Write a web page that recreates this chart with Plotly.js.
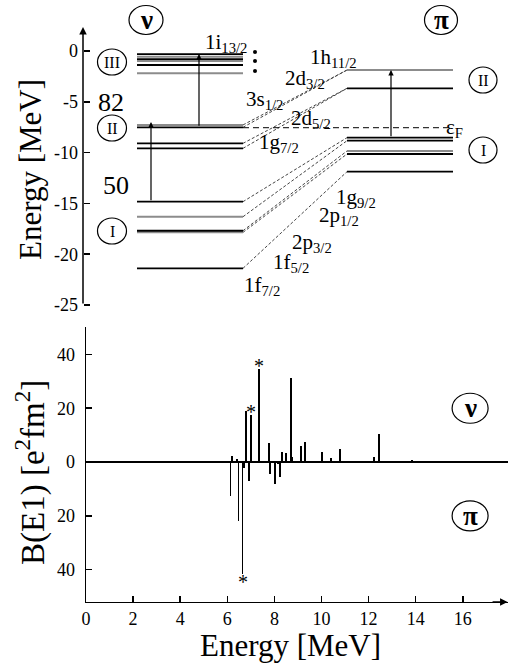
<!DOCTYPE html>
<html><head><meta charset="utf-8">
<script src="https://cdn.plot.ly/plotly-3.0.1.min.js"></script>
<style>html,body{margin:0;padding:0;background:#fff}#chart{width:508px;height:669px}</style>
</head><body><div id="chart"></div>
<script>
// ---------- DATA ----------
// Top panel: single-particle energies [MeV]
const nuLevels = [-0.30,-0.56,-0.79,-0.98,-1.38,-2.19,-7.28,-7.51,-9.09,-9.58,-14.83,-16.31,-17.69,-17.85,-21.39];
const nuShade  = ['k','g','k','g','k','g','g','k','k','k','k','g','k','g','k'];
const piLevels = [-1.87,-3.67,-8.53,-8.83,-9.84,-10.14,-11.88];
const piShade  = ['g','k','k','k','g','k','k'];
// neutron level index -> proton level index
const links = [[6,0],[7,0],[8,1],[9,1],[10,2],[11,3],[12,4],[13,5],[14,6]];
const fermiE = -7.55;
const levelLabels = ['1i<sub>13/2</sub>','3s<sub>1/2</sub>','2d<sub>3/2</sub>','1h<sub>11/2</sub>','2d<sub>5/2</sub>','1g<sub>7/2</sub>',
                     '1g<sub>9/2</sub>','2p<sub>1/2</sub>','2p<sub>3/2</sub>','1f<sub>5/2</sub>','1f<sub>7/2</sub>'];
const magicLabels = ['82','50'];
const yTicks = [0,-5,-10,-15,-20,-25];
const yTickText = ['0','-5','-10','-15','-20','-25'];
// Bottom panel: B(E1) strengths [e^2 fm^2]
const nuE = [5.83,6.21,6.42,6.81,7.02,7.36,7.77,8.31,8.48,8.69,8.75,9.13,9.29,10.02,10.40,10.80,12.22,12.45,13.84];
const nuB = [0.5,2.3,1.0,19.0,17.5,34.5,6.9,3.8,3.2,31.1,1.7,6.1,7.5,3.8,1.6,4.7,1.9,10.4,0.9];
const piE = [6.14,6.48,6.65,6.71,6.92,7.81,8.03,8.14,8.25];
const piB = [-12.6,-22.0,-41.6,-2.4,-7.0,-4.6,-8.0,-0.9,-5.5];
const starredNu = [4,5];   // indices of nuE marked with *
const starredPi = [2];
const bTicks = [40,20,0,-20,-40];
const bTickText = ['40','20','0','20','40'];
const xTicks = [0,2,4,6,8,10,12,14,16];

// ---------- LAYOUT HELPERS (pixel geometry) ----------
const W=508,H=669;
const ey = py => (51-py)/10.16;           // top panel pixel-y -> energy
const NX0=137, NX1=243, PX0=347, PX1=453; // level segment extents (x2 units = px)
const FONT = 'Liberation Serif, Times New Roman, serif';

const traces = [];
function levelTrace(levels, shade, want, x0, x1, color, w){
  const xs=[], ys=[];
  levels.forEach((e,i)=>{ if(shade[i]===want){ xs.push(x0,x1,null); ys.push(e,e,null);} });
  return {type:'scatter',mode:'lines',x:xs,y:ys,xaxis:'x2',yaxis:'y2',line:{color:color,width:w},hoverinfo:'skip',showlegend:false};
}
traces.push(levelTrace(nuLevels,nuShade,'g',NX0,NX1,'#8c8c8c',2));
traces.push(levelTrace(nuLevels,nuShade,'k',NX0,NX1,'#000',1.8));
traces.push(levelTrace(piLevels,piShade,'g',PX0,PX1,'#8c8c8c',2));
traces.push(levelTrace(piLevels,piShade,'k',PX0,PX1,'#000',1.8));
// connection lines
(function(){
  const xs=[],ys=[];
  links.forEach(([n,p])=>{ xs.push(NX1,PX0,null); ys.push(nuLevels[n],piLevels[p],null); });
  traces.push({type:'scatter',mode:'lines',x:xs,y:ys,xaxis:'x2',yaxis:'y2',line:{color:'#444',width:1,dash:'3px,2px'},hoverinfo:'skip',showlegend:false});
})();
// Fermi level
traces.push({type:'scatter',mode:'lines',x:[NX1,PX1],y:[fermiE,fermiE],xaxis:'x2',yaxis:'y2',line:{color:'#000',width:1,dash:'6px,4px'},hoverinfo:'skip',showlegend:false});
// dots after 1i13/2
traces.push({type:'scatter',mode:'markers',x:[255,255,255],y:[ey(52),ey(61),ey(71)],xaxis:'x2',yaxis:'y2',marker:{color:'#000',size:4},hoverinfo:'skip',showlegend:false});
// bars
traces.push({type:'bar',x:nuE,y:nuB,width:0.075,marker:{color:'#000',line:{width:0}},xaxis:'x',yaxis:'y',showlegend:false});
traces.push({type:'bar',x:piE,y:piB,width:0.075,marker:{color:'#000',line:{width:0}},xaxis:'x',yaxis:'y',showlegend:false});

const ann = [];
const T = (text,px,py,size,extra)=>Object.assign({text:text,x:px,y:ey(py),xref:'x2',yref:'y2',showarrow:false,
   xanchor:'center',yanchor:'middle',font:{family:FONT,size:size,color:'#000'}},extra||{});
// level labels
const lblPos = [[226,43],[264,100],[305,79],[333,58],[311,119],[279,143],[356,198],[339,216],[312,243],[291,263],[262,286]];
levelLabels.forEach((t,i)=>ann.push(T(t,lblPos[i][0],lblPos[i][1],21)));
ann.push(T('ε<sub>F</sub>',454,128,21));
ann.push(T(magicLabels[0],111,102,26));
ann.push(T(magicLabels[1],116,185,26));
// circled labels
const circ = [['<b>ν</b>',146,20,34,29,27],['<b>π</b>',441,20,33,29,27],['III',112,62,29,26,16],['II',112,128,29,26,16],['I',112,231,29,26,16],['II',483,80,28,26,16],['I',483,150,28,26,16]];
const shapes=[];
circ.forEach(([t,cx,cy,w,h,fs])=>{
  ann.push(T(t,cx,cy,fs));
  shapes.push({type:'circle',xref:'x2',yref:'y2',ysizemode:'pixel',yanchor:ey(cy),x0:cx-w/2,x1:cx+w/2,y0:-h/2,y1:h/2,line:{color:'#000',width:1.2}});
});
// arrows in top panel
const arr=(x,yt,yh)=>({x:x,y:yh,ax:x,ay:yt,xref:'x2',yref:'y2',axref:'x2',ayref:'y2',text:'',showarrow:true,arrowhead:2,arrowsize:0.9,arrowwidth:1.2,arrowcolor:'#000'});
ann.push(arr(151,nuLevels[10],ey(122)));
ann.push(arr(199,nuLevels[7],nuLevels[0]));
ann.push(arr(391,piLevels[2],piLevels[0]));
// top axis line with arrow
ann.push({x:83,y:ey(27),ax:83,ay:-25,xref:'x2',yref:'y2',axref:'x2',ayref:'y2',text:'',showarrow:true,arrowhead:2,arrowsize:1,arrowwidth:1.5,arrowcolor:'#000'});
// bottom x axis arrow
ann.push({x:17.9,y:-52,ax:17.2,ay:-52,xref:'x',yref:'y',axref:'x',ayref:'y',text:'',showarrow:true,arrowhead:2,arrowsize:1,arrowwidth:1.5,arrowcolor:'#000'});
// stars
starredNu.forEach(i=>ann.push({text:'*',x:nuE[i],y:nuB[i],xref:'x',yref:'y',showarrow:false,xanchor:'center',yanchor:'middle',yshift:3,font:{family:FONT,size:20,color:'#000'}}));
starredPi.forEach(i=>ann.push({text:'*',x:piE[i],y:piB[i],xref:'x',yref:'y',showarrow:false,xanchor:'center',yanchor:'middle',yshift:-8,font:{family:FONT,size:20,color:'#000'}}));
// bottom circled labels
[['<b>ν</b>',20],['<b>π</b>',-20]].forEach(([t,yv])=>{
  ann.push({text:t,x:16.31,y:yv,xref:'x',yref:'y',showarrow:false,xanchor:'center',yanchor:'middle',font:{family:FONT,size:27,color:'#000'}});
  shapes.push({type:'circle',xref:'x',yref:'y',xsizemode:'pixel',ysizemode:'pixel',xanchor:16.31,yanchor:yv,x0:-18,x1:18,y0:-15,y1:15,line:{color:'#000',width:1.2}});
});
// axis titles
const P = {xref:'paper',yref:'paper',showarrow:false,xanchor:'center',yanchor:'middle'};
ann.push(Object.assign({text:'Energy [MeV]',x:30/W,y:1-170/H,textangle:-90,font:{family:FONT,size:31,color:'#000'}},P));
ann.push(Object.assign({text:'B(E1) [e<sup>2</sup>fm<sup>2</sup>]',x:30/W,y:1-473/H,textangle:-90,font:{family:FONT,size:33,color:'#000'}},P));
ann.push(Object.assign({text:'Energy [MeV]',x:290/W,y:1-645/H,font:{family:FONT,size:31,color:'#000'}},P));

const layout = {
  width:W,height:H,margin:{l:0,r:0,t:0,b:0},paper_bgcolor:'#fff',plot_bgcolor:'rgba(0,0,0,0)',
  showlegend:false,barmode:'overlay',bargap:0,
  font:{family:FONT,color:'#000'},
  xaxis2:{domain:[0,1],range:[0,W],visible:false,anchor:'y2',fixedrange:true},
  yaxis2:{domain:[1-315.2/H,1],range:[ey(315.2),ey(0)],anchor:'free',position:83/W,showline:false,showgrid:false,zeroline:false,
          ticks:'inside',ticklen:6,tickwidth:1.5,tickcolor:'#000',tickvals:yTicks,ticktext:yTickText,ticklabelstandoff:5,
          tickfont:{family:FONT,size:18,color:'#000'}},
  xaxis:{domain:[86/W,1],range:[0,(W-86)/23.55],anchor:'y',showline:true,linewidth:1.5,linecolor:'#000',showgrid:false,zeroline:false,
         ticks:'inside',ticklen:6,tickwidth:1.5,tickcolor:'#000',tickvals:xTicks,ticklabelstandoff:0,
         tickfont:{family:FONT,size:18,color:'#000'}},
  yaxis:{domain:[1-601.9/H,1-327/H],range:[-52,50.2],anchor:'x',showline:true,linewidth:1.5,linecolor:'#000',showgrid:false,
         zeroline:true,zerolinecolor:'#000',zerolinewidth:2,
         ticks:'inside',ticklen:6,tickwidth:1.5,tickcolor:'#000',tickvals:bTicks,ticktext:bTickText,ticklabelstandoff:6,
         tickfont:{family:FONT,size:18,color:'#000'}},
  annotations:ann,shapes:shapes
};
Plotly.newPlot('chart',traces,layout,{staticPlot:true,displayModeBar:false});
</script></body></html>
